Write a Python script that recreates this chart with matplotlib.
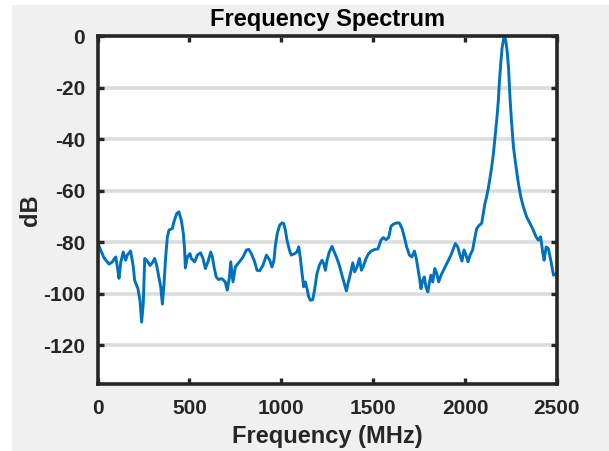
import matplotlib
matplotlib.use("Agg")
import matplotlib.pyplot as plt
from matplotlib.patches import Rectangle

# ---- data, split into frequency bands ----
freq_a = [0, 17, 35, 63, 81, 99, 108, 117, 126, 140, 153, 162, 180, 195, 202, 220, 231, 240, 249,
          257, 271, 286, 298, 311, 322, 335, 344, 353, 362, 371, 380, 389, 407, 416, 431, 443, 456,
          467, 474, 478, 489, 503]
db_a = [-80, -83, -86, -88.5, -87.6, -85.7, -89.6, -94, -88, -83.8, -87, -85, -83.4, -89.6, -94.8,
        -98, -102.5, -111, -103.8, -86.3, -87.3, -89, -88, -86.3, -89, -94, -97.4, -104, -96,
        -85.7, -78, -75.3, -74.7, -72, -68.9, -68.2, -71.5, -76.6, -83, -90, -85.7, -84.4]

freq_b = [510, 529, 543, 561, 574, 587, 601, 616, 625, 634, 646, 659, 674, 683, 695, 706, 717, 725,
          737, 750, 764, 779, 792, 810, 823, 837, 855, 868, 882, 900, 919, 937, 949, 960, 967, 978,
          991, 1004]
db_b = [-86.3, -87.6, -85, -84.1, -86.3, -90.2, -87.6, -83.8, -85.7, -89.6, -93.5, -94.5, -94.1,
        -94.5, -95.4, -98.6, -94, -87.6, -95.4, -89.6, -88.3, -87, -85.7, -83, -82.8, -84.4, -87.6,
        -90.9, -91.1, -89, -85, -87, -89.6, -87, -81.8, -76.6, -73.4, -72.5]

freq_c = [1013, 1022, 1031, 1044, 1054, 1073, 1085, 1095, 1104, 1113, 1122, 1131, 1140, 1149, 1158,
          1171, 1182, 1194, 1207, 1221, 1231, 1240, 1249, 1261, 1276, 1290, 1303, 1316, 1330, 1345,
          1354, 1363, 1376, 1389, 1399, 1412, 1425, 1436, 1448, 1461, 1475, 1490, 1508, 1526]
db_c = [-72.7, -75.3, -79.2, -83, -85, -84.4, -83.8, -81.8, -86.3, -92.2, -97.3, -95.4, -98, -101.2,
        -102.5, -102.3, -98, -92.2, -89, -87, -88.3, -90.9, -87, -83.8, -81.6, -84.1, -86.3, -89,
        -92.8, -96.7, -98.9, -96, -92.2, -88, -91.5, -89.6, -86.3, -90.9, -89, -86.3, -84.4, -83.4,
        -82.8, -82.6]

freq_d = [1542, 1555, 1570, 1584, 1597, 1610, 1628, 1642, 1657, 1669, 1682, 1697, 1711, 1724, 1733,
          1742, 1751, 1760, 1769, 1778, 1787, 1797, 1805, 1814, 1824, 1835, 1846, 1856, 1869, 1887,
          1905, 1923, 1936, 1947, 1960, 1972, 1983, 1994, 2005, 2016, 2027]
db_d = [-79.2, -78.2, -79, -78.2, -73.8, -73, -72.5, -72.5, -74.7, -77.9, -81.8, -85, -85.7, -83.4,
        -85.7, -89.6, -93.5, -98, -94.8, -93.5, -97.4, -99.3, -96, -92.8, -95.4, -90.2, -92.2, -95.4,
        -92.8, -90.2, -87.6, -85, -82.5, -80.5, -81.8, -85, -87.3, -83, -85, -87.6, -85]

freq_e = [2041, 2054, 2063, 2077, 2090, 2099, 2108, 2117, 2126, 2135, 2145, 2154, 2163, 2172, 2181,
          2186, 2194, 2201, 2208, 2215, 2222, 2230, 2237, 2244, 2252, 2263, 2277, 2290, 2303, 2317,
          2335, 2353, 2371, 2386, 2398, 2411, 2422, 2430, 2441, 2453, 2466, 2481, 2495, 2500]
db_e = [-83, -77.9, -74.7, -73.4, -72.7, -68.9, -65, -62.4, -59.1, -55.3, -50.7, -45.6, -39.1, -32.6,
        -24.9, -18.4, -10.6, -4.8, -1.6, 0, -2.2, -6.7, -13.2, -23.6, -32.6, -43, -50.7, -57.2,
        -62.4, -66.3, -70.2, -72.7, -75.3, -77.9, -79.2, -77.9, -83.8, -87, -81.8, -82.5, -87,
        -92.8, -92.2, -92]

x_ticks = [0, 500, 1000, 1500, 2000, 2500]
y_ticks = [0, -20, -40, -60, -80, -100, -120]

title_text = "Frequency Spectrum"
x_label = "Frequency (MHz)"
y_label = "dB"

freq_mhz = freq_a + freq_b + freq_c + freq_d + freq_e
level_db = db_a + db_b + db_c + db_d + db_e

plt.rcParams['font.family'] = ['Liberation Sans', 'DejaVu Sans']

W, H = 609, 451
fig = plt.figure(figsize=(W / 100, H / 100), dpi=100, facecolor='white')
fig.patches.append(Rectangle((12 / W, 0), 1 - 12 / W, 1 - 5 / H, transform=fig.transFigure,
                             facecolor='#f0f0f0', edgecolor='none', zorder=-10))

ax = fig.add_axes([97.5 / W, 1 - 384 / H, (557 - 97.5) / W, (384 - 36) / H])
ax.set_facecolor('white')

ax.plot(freq_mhz, level_db, color='#0072BD', linewidth=2.1, zorder=3)

ax.set_xlim(0, 2500)
ax.set_ylim(-135, 0)
ax.set_xticks(x_ticks)
ax.set_yticks(y_ticks)
ax.set_xticklabels([str(v) for v in x_ticks])
ax.set_yticklabels([str(v) for v in y_ticks])

ax.yaxis.grid(True, color='#dcdcdc', linewidth=2.6, zorder=1)
ax.xaxis.grid(False)
ax.set_axisbelow(True)

for s in ax.spines.values():
    s.set_linewidth(2.6)
    s.set_color('#262626')
    s.set_zorder(5)

ax.tick_params(axis='both', direction='in', length=4, width=2.4, color='#262626',
               labelsize=15, labelcolor='#262626', top=True, right=True)
ax.tick_params(axis='x', pad=11)
ax.tick_params(axis='y', pad=9)
for lbl in ax.get_xticklabels() + ax.get_yticklabels():
    lbl.set_fontweight('bold')

ax.set_xlabel(x_label, fontsize=17, fontweight='bold', color='#262626', va='center')
ax.xaxis.set_label_coords(0.5, (384 - 437) / 348)
ax.set_ylabel(y_label, fontsize=17, fontweight='bold', color='#262626', va='center')
ax.yaxis.set_label_coords((30 - 97.5) / 459.5, 0.5)
ax.set_title(title_text, fontsize=17, fontweight='bold', color='black', pad=7)

fig.savefig('out.png', dpi=100, facecolor=fig.get_facecolor())
